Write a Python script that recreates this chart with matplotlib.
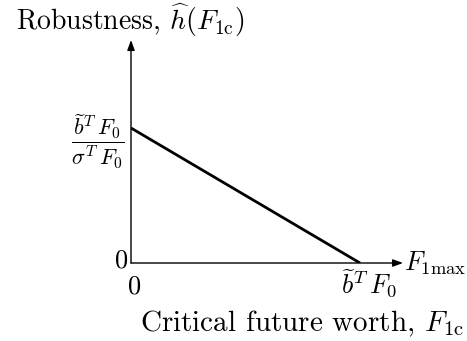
import matplotlib
matplotlib.use("Agg")
import matplotlib.pyplot as plt

plt.rcParams["font.family"] = "serif"
plt.rcParams["font.serif"] = ["cmr10", "DejaVu Serif"]
plt.rcParams["mathtext.fontset"] = "cm"
plt.rcParams["axes.unicode_minus"] = False

# Robustness falls linearly from b~'F0/sigma'F0 at F1c=0 to zero at F1c=b~'F0
f1c = [0.0, 1.0]
robustness = [1.0, 0.0]
xtick_vals = [0.0, 1.0]
xtick_labels = ["0", r"$\widetilde{b}^T\,F_0$"]
ytick_vals = [0.0, 1.0]
ytick_labels = ["0", r"$\dfrac{\widetilde{b}^T\,F_0}{\sigma^T\,F_0}$"]

W, H = 467, 341
fig = plt.figure(figsize=(W / 100, H / 100), dpi=100)
x0, y0 = 131, 263
x1, y1 = 403, 40
ax = fig.add_axes([x0 / W, 1 - y0 / H, (x1 - x0) / W, (y0 - y1) / H])
ax.set_xlim(0, 272 / 229)
ax.set_ylim(0, 223 / 135)

ax.plot(f1c, robustness, color="black", lw=2.0, solid_capstyle="butt")

for s in ax.spines.values():
    s.set_visible(False)
ax.set_xticks([])
ax.set_yticks([])

arrow = dict(arrowstyle="-|>,head_length=0.6,head_width=0.22", color="black", lw=1.0,
             shrinkA=0, shrinkB=0)
ax.annotate("", xy=(1, 0), xytext=(0, 0), xycoords="axes fraction", arrowprops=arrow)
ax.annotate("", xy=(0, 1), xytext=(0, 0), xycoords="axes fraction", arrowprops=arrow)

# axis value labels placed at their data positions (offsets in pixels)
x_offsets = [(4, -12), (9, -5)]
for v, lab, (dx, dy) in zip(xtick_vals, xtick_labels, x_offsets):
    px, py = ax.transData.transform((v, 0))
    fig.text((px + dx) / W, (py + dy) / H, lab, ha="center", va="top", fontsize=19)

y_offsets = [(-3, 2), (-6, -14)]
y_sizes = [19, 16]
for v, lab, (dx, dy), fs in zip(ytick_vals, ytick_labels, y_offsets, y_sizes):
    px, py = ax.transData.transform((0, v))
    fig.text((px + dx) / W, (py + dy) / H, lab, ha="right", va="center", fontsize=fs)

fig.text(130 / W, 1 - 20 / H, r"Robustness, $\widehat{h}(F_{1\mathrm{c}})$",
         ha="center", va="center", fontsize=20)
fig.text(302 / W, 1 - 324 / H, r"Critical future worth, $F_{1\mathrm{c}}$",
         ha="center", va="center", fontsize=21)
fig.text(404 / W, 1 - 263 / H, r"$F_{1\mathrm{max}}$",
         ha="left", va="center", fontsize=19)

fig.savefig("out.png", dpi=100)
